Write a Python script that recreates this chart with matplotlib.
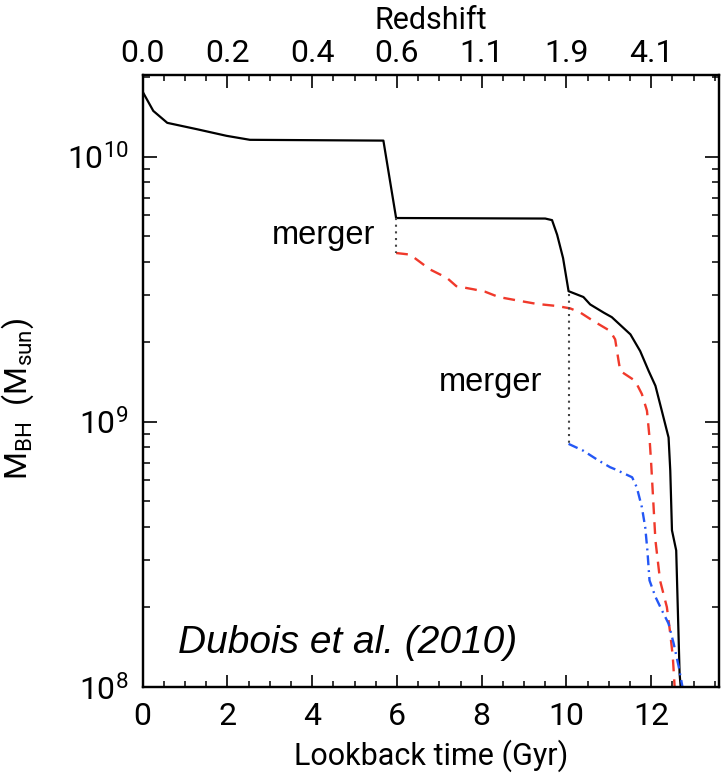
import matplotlib
matplotlib.use("Agg")
import matplotlib.pyplot as plt
import numpy as np

# ---------------- data ----------------
black_t = [0.0, 0.25, 0.58, 1.28, 1.98, 2.53, 5.68, 5.98, 9.50, 9.66, 9.78, 9.92,
           10.05, 10.40, 10.56, 10.88, 11.07, 11.51, 11.74, 11.94, 12.10, 12.25,
           12.41, 12.45, 12.49, 12.59, 12.67, 12.72]
black_logm = [10.244, 10.172, 10.127, 10.103, 10.078, 10.063, 10.060, 9.768, 9.766,
              9.760, 9.705, 9.617, 9.492, 9.470, 9.442, 9.411, 9.394, 9.329, 9.266,
              9.191, 9.135, 9.041, 8.940, 8.815, 8.590, 8.514, 8.050, 7.950]

red_t = [5.98, 6.31, 6.78, 7.18, 7.40, 7.81, 8.08, 8.40, 8.91, 9.30, 9.78, 10.09,
         10.33, 10.64, 11.03, 11.15, 11.23, 11.27, 11.62, 11.78, 11.90, 11.96, 12.00,
         12.10, 12.21, 12.37, 12.45, 12.51, 12.56]
red_logm = [9.636, 9.630, 9.574, 9.542, 9.511, 9.499, 9.490, 9.470, 9.455, 9.444,
            9.436, 9.427, 9.411, 9.379, 9.342, 9.310, 9.229, 9.191, 9.154, 9.104,
            9.041, 8.940, 8.840, 8.552, 8.400, 8.300, 8.200, 8.113, 7.980]

blue_t = [10.05, 10.40, 10.76, 11.03, 11.15, 11.55, 11.66, 11.78, 11.86, 11.91,
          11.96, 12.10, 12.25, 12.41, 12.53, 12.65, 12.76]
blue_logm = [8.916, 8.890, 8.853, 8.828, 8.820, 8.790, 8.752, 8.677, 8.600, 8.514,
             8.401, 8.339, 8.289, 8.238, 8.163, 8.075, 7.980]

merger_t = [5.98, 10.05]
merger_top_logm = [9.768, 9.480]
merger_bottom_logm = [9.636, 8.916]
merger_label_t = [4.26, 8.20]
merger_label_logm = [9.669, 9.116]

bottom_ticks = [0, 2, 4, 6, 8, 10, 12]
top_tick_labels = ["0.0", "0.2", "0.4", "0.6", "1.1", "1.9", "4.1"]

# ---------------- fonts ----------------
plt.rcParams["font.family"] = ["Roboto", "DejaVu Sans"]
plt.rcParams["mathtext.fontset"] = "custom"
plt.rcParams["mathtext.rm"] = "Roboto"
plt.rcParams["mathtext.it"] = "Roboto:italic"

W, H = 722, 777
fig = plt.figure(figsize=(W / 100, H / 100), dpi=100)
L, R, B, T = 142.7, 719.0, 686.7, 75.0
ax = fig.add_axes([L / W, 1 - B / H, (R - L) / W, (B - T) / H])

ax.plot(black_t, 10 ** np.array(black_logm), color="black", lw=1.6)
ax.plot(red_t, 10 ** np.array(red_logm), color="#f0392b", lw=1.7,
        dashes=(5, 3.4))
ax.plot(blue_t, 10 ** np.array(blue_logm), color="#2457f5", lw=1.7,
        dashes=(4.2, 2.1, 0.8, 2.1))
for t, top, bot in zip(merger_t, merger_top_logm, merger_bottom_logm):
    ax.plot([t, t], [10 ** top, 10 ** bot], color="#444444", lw=1.5,
            linestyle=(0, (1, 2.2)))

ax.set_yscale("log")
ax.set_xlim(0, 13.6)
ax.set_ylim(1e8, 2.03e10)

ax.set_xticks(bottom_ticks)
ax.set_xticks(np.arange(0, 13.6, 0.5), minor=True)
ax.set_xticklabels([str(v) for v in bottom_ticks])
ax.set_yticks([1e8, 1e9, 1e10])
ax.set_yticklabels([r"$10^{8}$", r"$10^{9}$", r"$10^{10}$"])

for s in ax.spines.values():
    s.set_linewidth(1.6)

ax.tick_params(axis="x", which="major", direction="in", length=9, width=1.2,
               top=False, labelsize=23, pad=11)
ax.tick_params(axis="x", which="minor", direction="in", length=4.5, width=1.1,
               top=False)
ax.tick_params(axis="y", which="major", direction="in", length=10, width=1.2,
               right=True, labelsize=23, pad=10)
ax.tick_params(axis="y", which="minor", direction="in", length=5, width=1.1,
               right=True, labelleft=False)

ax.set_xlabel("Lookback time (Gyr)", fontsize=22, labelpad=6)
ax.set_ylabel(r"M$_{\rm BH}$  (M$_{\rm sun}$)", fontsize=23)
ax.yaxis.set_label_coords(-0.185, 0.47)

ax2 = ax.twiny()
ax2.set_xlim(ax.get_xlim())
ax2.set_xticks(bottom_ticks)
ax2.set_xticks(np.arange(0, 13.6, 0.5), minor=True)
ax2.set_xticklabels(top_tick_labels)
ax2.tick_params(axis="x", which="major", direction="in", length=9, width=1.2,
                labelsize=23, pad=5)
ax2.tick_params(axis="x", which="minor", direction="in", length=4.5, width=1.1)
ax2.set_xlabel("Redshift", fontsize=22, labelpad=7)
for s in ax2.spines.values():
    s.set_linewidth(1.6)

for t, lm in zip(merger_label_t, merger_label_logm):
    ax.text(t, 10 ** lm, "merger", family="Liberation Sans", fontsize=23.5,
            ha="center", va="baseline")

ax.text(4.84, 10 ** 8.127, "Dubois et al. (2010)", family="Liberation Sans",
        style="italic", fontsize=28, ha="center", va="baseline")

fig.savefig("out.png", dpi=100)
